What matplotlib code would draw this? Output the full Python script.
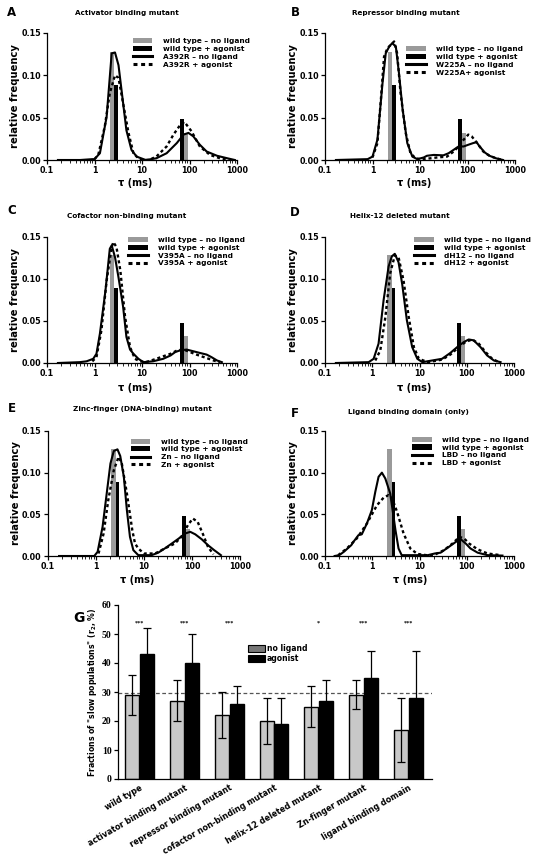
import numpy as np
import matplotlib
matplotlib.use('Agg')
import matplotlib.pyplot as plt
from matplotlib.patches import Patch
from matplotlib.lines import Line2D
from matplotlib.ticker import LogLocator, NullFormatter, FixedLocator, FormatStrFormatter

plt.rcParams['font.family'] = ['DejaVu Sans']
plt.rcParams['font.weight'] = 'bold'
plt.rcParams['axes.linewidth'] = 0.9

W, H = 535, 861

# wild type reference histogram (same in every panel)
wt_nolig_left = [2.1, 76]
wt_nolig_right = [2.6, 91]
wt_nolig_h = [0.128, 0.032]
wt_ago_left = [2.6, 63]
wt_ago_right = [3.05, 76]
wt_ago_h = [0.089, 0.048]

# A: activator binding mutant (A392R)
a_sol_tau = [0.17, 0.5, 0.9, 1.0, 1.3, 1.8, 2.3, 2.7, 3.2, 3.7, 4.7, 6.0, 7.7, 12, 20, 33, 54, 75, 95, 120, 165, 230, 380, 630, 900]
a_sol_f = [0, 0, 0.001, 0.001, 0.008, 0.051, 0.126, 0.127, 0.112, 0.083, 0.035, 0.012, 0.004, 0, 0.002, 0.008, 0.02, 0.03, 0.032, 0.028, 0.018, 0.010, 0.005, 0.002, 0.0]
a_dash_tau = [1.0, 1.2, 1.65, 2.1, 2.7, 3.2, 4.0, 5.2, 6.6, 8.4, 10, 14, 20, 33, 46, 63, 78, 110, 165, 270, 440, 700]
a_dash_f = [0.001, 0.006, 0.04, 0.079, 0.1, 0.097, 0.067, 0.032, 0.008, 0.002, 0, 0, 0.004, 0.016, 0.03, 0.041, 0.045, 0.034, 0.016, 0.006, 0.002, 0.0]

# B: repressor binding mutant (W225A)
b_sol_tau = [0.17, 0.79, 1.0, 1.27, 1.62, 1.9, 2.25, 2.6, 3.1, 3.6, 4.3, 5.4, 6.9, 8.8, 12, 14, 19.5, 31, 40, 51, 65, 83, 104, 132, 155, 180, 230, 290, 400, 560]
b_sol_f = [0, 0.001, 0.004, 0.024, 0.09, 0.126, 0.134, 0.138, 0.134, 0.103, 0.06, 0.02, 0.004, 0.001, 0.003, 0.005, 0.006, 0.0055, 0.008, 0.012, 0.016, 0.016, 0.018, 0.02, 0.021, 0.016, 0.009, 0.005, 0.002, 0]
b_dash_tau = [1.0, 1.27, 1.5, 1.75, 2.06, 2.85, 3.3, 3.9, 5.0, 6.3, 8.1, 10, 14, 23, 37, 51, 65, 83, 104, 122, 155, 215, 290, 400, 560]
b_dash_f = [0.003, 0.02, 0.071, 0.122, 0.132, 0.14, 0.126, 0.079, 0.032, 0.008, 0.002, 0.001, 0.0015, 0.003, 0.004, 0.01, 0.016, 0.024, 0.03, 0.028, 0.021, 0.01, 0.005, 0.002, 0]

# C: cofactor non-binding mutant (V395A)
c_sol_tau = [0.17, 0.49, 0.68, 0.94, 1.1, 1.3, 1.7, 2.1, 2.3, 2.7, 3.2, 4.0, 4.7, 5.6, 6.6, 8.4, 10.7, 17, 28, 40, 50, 63, 87, 120, 165, 230, 290, 380, 480]
c_sol_f = [0, 0.001, 0.002, 0.005, 0.011, 0.035, 0.086, 0.136, 0.14, 0.126, 0.102, 0.067, 0.031, 0.016, 0.011, 0.005, 0.001, 0.002, 0.005, 0.009, 0.013, 0.015, 0.016, 0.014, 0.012, 0.010, 0.007, 0.003, 0.001]
c_dash_tau = [0.9, 1.1, 1.4, 1.8, 2.3, 2.5, 2.9, 3.5, 4.4, 5.6, 7.1, 9, 12, 20, 28, 40, 55, 75, 103, 140, 200, 320, 440]
c_dash_f = [0.002, 0.007, 0.039, 0.098, 0.138, 0.144, 0.138, 0.11, 0.055, 0.019, 0.005, 0.002, 0.001, 0.005, 0.008, 0.011, 0.015, 0.016, 0.013, 0.01, 0.007, 0.003, 0.001]

# D: helix-12 deleted mutant (dH12)
d_sol_tau = [0.17, 0.84, 1.07, 1.36, 1.74, 2.22, 2.6, 3.0, 3.6, 4.3, 5.4, 7.0, 9.0, 11.5, 30, 45, 63, 87, 110, 140, 195, 270, 375, 520]
d_sol_f = [0, 0.001, 0.005, 0.023, 0.075, 0.115, 0.127, 0.13, 0.12, 0.094, 0.051, 0.019, 0.005, 0.001, 0.005, 0.012, 0.019, 0.025, 0.028, 0.027, 0.019, 0.009, 0.003, 0.001]
d_dash_tau = [1.16, 1.48, 1.9, 2.4, 3.0, 3.6, 4.6, 5.9, 7.6, 9.7, 15, 30, 45, 68, 94, 130, 180, 250, 345, 480]
d_dash_f = [0.003, 0.015, 0.055, 0.107, 0.128, 0.126, 0.098, 0.055, 0.019, 0.005, 0.001, 0.004, 0.01, 0.019, 0.025, 0.028, 0.023, 0.013, 0.005, 0.001]

# E: zinc-finger mutant (Zn)
e_sol_tau = [0.17, 0.92, 1.08, 1.37, 1.74, 2.0, 2.35, 2.8, 3.2, 3.8, 4.4, 5.1, 6.0, 7.6, 14.4, 19.8, 27, 38, 53, 72, 92, 117, 160, 215, 290, 400]
e_sol_f = [0, 0, 0.005, 0.035, 0.083, 0.111, 0.126, 0.128, 0.12, 0.095, 0.055, 0.023, 0.007, 0.001, 0.001, 0.004, 0.009, 0.015, 0.021, 0.027, 0.029, 0.026, 0.02, 0.013, 0.007, 0.001]
e_dash_tau = [1.13, 1.44, 1.8, 2.35, 2.96, 3.45, 4.4, 5.7, 6.5, 7.6, 10, 17, 27, 44, 60, 82, 104, 131, 167, 215, 280]
e_dash_f = [0.003, 0.027, 0.067, 0.103, 0.119, 0.111, 0.075, 0.031, 0.015, 0.009, 0.003, 0.003, 0.009, 0.015, 0.023, 0.037, 0.045, 0.041, 0.027, 0.011, 0.002]

# F: ligand binding domain only (LBD)
f_sol_tau = [0.16, 0.2, 0.25, 0.36, 0.4, 0.51, 0.6, 0.77, 0.98, 1.16, 1.36, 1.6, 1.89, 2.4, 3.1, 3.6, 4.2, 15, 21, 28, 42, 59, 75, 95, 120, 170, 275, 570]
f_sol_f = [0, 0.001, 0.005, 0.013, 0.017, 0.025, 0.026, 0.039, 0.055, 0.077, 0.095, 0.1, 0.093, 0.075, 0.031, 0.009, 0.001, 0.001, 0.003, 0.004, 0.011, 0.017, 0.02, 0.015, 0.009, 0.004, 0.001, 0.0005]
f_dash_tau = [0.19, 0.29, 0.47, 0.77, 1.26, 1.74, 2.2, 2.6, 3.35, 4.6, 6.4, 9, 14, 20, 33, 50, 70, 88, 112, 170, 275, 520]
f_dash_f = [0.001, 0.009, 0.021, 0.039, 0.061, 0.07, 0.073, 0.07, 0.053, 0.027, 0.009, 0.0025, 0.001, 0.001, 0.007, 0.015, 0.023, 0.021, 0.015, 0.008, 0.003, 0.001]

# G: slow population fractions
groups = ['wild type', 'activator binding mutant', 'repressor binding mutant',
          'cofactor non-binding mutant', 'helix-12 deleted mutant',
          'Zn-finger mutant', 'ligand binding domain']
nolig = [29, 27, 22, 20, 25, 29, 17]
nolig_err = [7, 7, 8, 8, 7, 5, 11]
ago = [43, 40, 26, 19, 27, 35, 28]
ago_err = [9, 10, 6, 9, 7, 9, 16]
stars = ['***', '***', '***', '', '*', '***', '***']
wt_level = 29.7
g_yticks = [0, 10, 20, 30, 40, 50, 60]


def px_axes(l, t, r, b):
    return fig.add_axes([l / W, 1 - b / H, (r - l) / W, (b - t) / H])


def ftxt(x, y, s, **kw):
    fig.text(x / W, 1 - y / H, s, ha='center', va='center', **kw)


def panel(ax, name, s_tau, s_f, d_tau, d_f, leg_x, leg_y):
    ax.bar(wt_nolig_left, wt_nolig_h, width=np.array(wt_nolig_right) - np.array(wt_nolig_left),
           align='edge', color='#9a9a9a', lw=0, zorder=1)
    ax.bar(wt_ago_left, wt_ago_h, width=np.array(wt_ago_right) - np.array(wt_ago_left),
           align='edge', color='black', lw=0, zorder=1)
    ax.plot(s_tau, s_f, color='black', lw=1.5, zorder=3)
    ax.plot(d_tau, d_f, color='black', lw=1.7, ls=(0, (1.3, 1.2)), zorder=3)
    ax.set_xscale('log')
    ax.set_xlim(0.1, 1000)
    ax.set_ylim(0, 0.15)
    ax.xaxis.set_major_locator(FixedLocator([0.1, 1, 10, 100, 1000]))
    ax.set_xticklabels(['0.1', '1', '10', '100', '1000'])
    ax.xaxis.set_minor_locator(LogLocator(base=10, subs=np.arange(2, 10), numticks=20))
    ax.xaxis.set_minor_formatter(NullFormatter())
    ax.set_yticks([0, 0.05, 0.10, 0.15])
    ax.yaxis.set_major_formatter(FormatStrFormatter('%.2f'))
    ax.tick_params(axis='both', which='major', labelsize=5.8, length=3, width=0.9, pad=1.5)
    ax.tick_params(axis='x', which='minor', length=1.8, width=0.6)
    for sp in ['top', 'right']:
        ax.spines[sp].set_visible(False)
    ax.set_ylabel('relative frequency', fontsize=7.2, fontweight='bold', labelpad=1)
    handles = [Patch(facecolor='#9a9a9a', edgecolor='none'),
               Patch(facecolor='black', edgecolor='none'),
               Line2D([], [], color='black', lw=2.2),
               Line2D([], [], color='black', lw=2.2, ls=(0, (1.3, 1.2)))]
    labels = ['wild type \u2013 no ligand', 'wild type + agonist',
              name + ' \u2013 no ligand', name + ' + agonist']
    if name == 'W225A':
        labels[3] = 'W225A+ agonist'
    ax.legend(handles, labels, loc='upper left', bbox_to_anchor=(leg_x, leg_y),
              frameon=False, fontsize=5.3, handlelength=2.7, handleheight=0.7,
              handletextpad=1.4, labelspacing=0.22, borderpad=0, borderaxespad=0)


fig = plt.figure(figsize=(W / 100, H / 100), dpi=100)

specs = [
    ('A', 'Activator binding mutant', 'A392R', a_sol_tau, a_sol_f, a_dash_tau, a_dash_f,
     (47, 33, 237, 160), (12, 12), (127, 13), (135, 183), (0.45, 0.96)),
    ('B', 'Repressor binding mutant', 'W225A', b_sol_tau, b_sol_f, b_dash_tau, b_dash_f,
     (325, 33, 515, 160), (295, 12), (406, 13), (414, 183), (0.425, 0.895)),
    ('C', 'Cofactor non-binding mutant', 'V395A', c_sol_tau, c_sol_f, c_dash_tau, c_dash_f,
     (47, 237, 237, 363), (12, 211), (127, 216), (135, 388), (0.425, 1.0)),
    ('D', 'Helix-12 deleted mutant', 'dH12', d_sol_tau, d_sol_f, d_dash_tau, d_dash_f,
     (325, 237, 514, 363), (295, 213), (400, 216), (414, 388), (0.47, 1.0)),
    ('E', 'Zinc-finger (DNA-binding) mutant', 'Zn', e_sol_tau, e_sol_f, e_dash_tau, e_dash_f,
     (48, 431, 240, 556), (12, 408), (142, 409), (137, 580), (0.43, 0.94)),
    ('F', 'Ligand binding domain (only)', 'LBD', f_sol_tau, f_sol_f, f_dash_tau, f_dash_f,
     (325, 431, 514, 556), (295, 413), (408, 412), (410, 580), (0.46, 0.955)),
]

for (letter, title, name, st, sf, dt, df, box, lpos, tpos, xlpos, legpos) in specs:
    ax = px_axes(*box)
    panel(ax, name, st, sf, dt, df, *legpos)
    ftxt(*lpos, letter, fontsize=8.5, fontweight='bold')
    ftxt(*tpos, title, fontsize=5.2, fontweight='bold')
    ftxt(*xlpos, '\u03c4 (ms)', fontsize=7, fontweight='bold')

# panel G
axg = px_axes(118, 605, 432, 779)
x = np.arange(len(groups))
bw = 0.31
axg.axhline(wt_level, color='#555555', lw=0.9, ls=(0, (3, 2)), zorder=0.5)
axg.bar(x - 0.165, nolig, width=bw, color='#c8c8c8', edgecolor='black', lw=1.0, zorder=1)
axg.bar(x + 0.165, ago, width=bw, color='black', edgecolor='black', lw=1.0, zorder=1)
axg.errorbar(x - 0.165, nolig, yerr=nolig_err, fmt='none', ecolor='black',
             elinewidth=0.9, capsize=3, capthick=0.9, zorder=2)
axg.errorbar(x + 0.165, ago, yerr=ago_err, fmt='none', ecolor='black',
             elinewidth=0.9, capsize=3, capthick=0.9, zorder=2)
for xi, s in zip(x, stars):
    if s:
        axg.text(xi, 53.8, s, ha='center', va='center', fontsize=4.5,
                 family='Liberation Serif')
axg.set_xlim(-0.484, 6.53)
axg.set_ylim(0, 60)
axg.set_yticks(g_yticks)
axg.set_yticklabels([str(v) for v in g_yticks], family='Liberation Serif',
                    fontweight='bold', fontsize=7)
axg.tick_params(axis='y', length=3, width=0.9, pad=1.5)
axg.set_xticks(x)
axg.set_xticklabels(groups, rotation=30, ha='right', rotation_mode='anchor',
                    fontsize=5.8, fontweight='bold')
axg.tick_params(axis='x', length=0, pad=3)
for sp in ['top', 'right']:
    axg.spines[sp].set_visible(False)
axg.set_ylabel('Fractions of "slow populations" (r$_{\\mathbf{2}}$, %)', fontsize=5.6,
               fontweight='bold', labelpad=2)
gh = [Patch(facecolor='#777777', edgecolor='black', lw=0.8),
      Patch(facecolor='black', edgecolor='black', lw=0.8)]
axg.legend(gh, ['no ligand', 'agonist'], loc='upper left', bbox_to_anchor=(0.414, 0.775),
           frameon=False, fontsize=5.5, handlelength=2.2, handleheight=1.1,
           handletextpad=0.3, labelspacing=0.15, borderpad=0, borderaxespad=0)
ftxt(79, 618, 'G', fontsize=10, fontweight='bold')

fig.savefig('out.png', dpi=100)
